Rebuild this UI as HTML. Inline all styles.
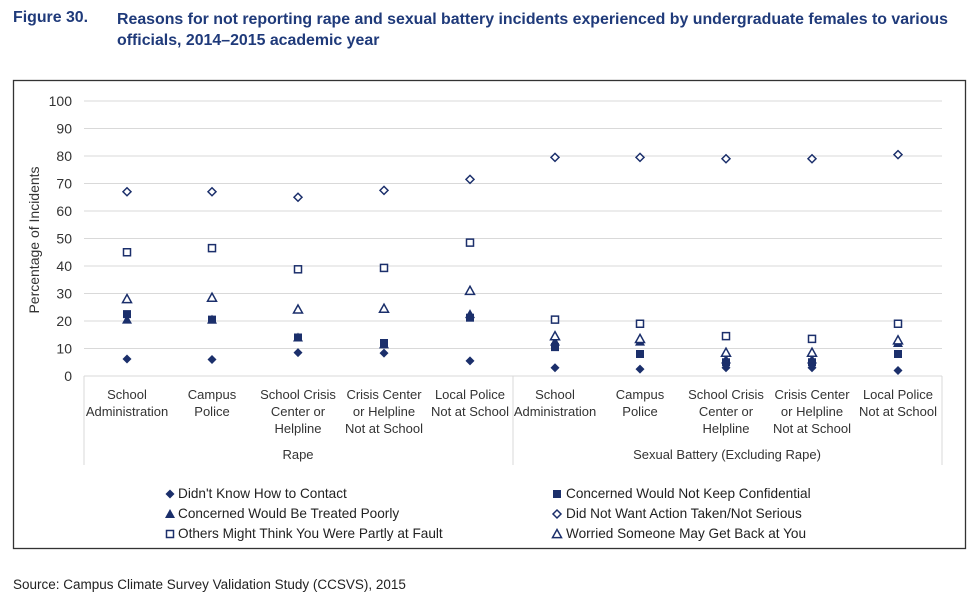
<!DOCTYPE html>
<html><head><meta charset="utf-8"><style>
body{margin:0;background:#fff;width:980px;height:615px;overflow:hidden;font-family:"Liberation Sans",sans-serif}
.t{position:absolute;color:#1f3a7a;font-weight:bold;font-size:15.9px;font-family:"Liberation Sans Narrow","Liberation Sans",sans-serif}
</style></head><body>
<div class="t" style="left:13px;top:9px">Figure 30.</div>
<div class="t" style="left:117px;top:9px;line-height:21px">Reasons for not reporting rape and sexual battery incidents experienced by undergraduate females to various<br>officials, 2014–2015 academic year</div>
<svg id="s" width="980" height="615" style="position:absolute;left:0;top:0" font-family="Liberation Sans, sans-serif">
<rect x="13.5" y="80.5" width="952" height="468" fill="none" stroke="#333" stroke-width="1.3"/>
<g stroke="#d9d9d9" stroke-width="1" id="grid"></g>
<g stroke="#d9d9d9"><line x1="84" y1="376" x2="84" y2="465"/><line x1="513" y1="376" x2="513" y2="465"/><line x1="942" y1="376" x2="942" y2="465"/></g>
<g font-size="14" fill="#333" text-anchor="end" id="yl"></g>
<text transform="translate(39,240) rotate(-90)" font-size="14" fill="#333" text-anchor="middle">Percentage of Incidents</text>
<g font-size="13" fill="#333" text-anchor="middle">
<text x="127" y="399">School</text><text x="127" y="416">Administration</text>
<text x="212" y="399">Campus</text><text x="212" y="416">Police</text>
<text x="298" y="399">School Crisis</text><text x="298" y="416">Center or</text><text x="298" y="433">Helpline</text>
<text x="384" y="399">Crisis Center</text><text x="384" y="416">or Helpline</text><text x="384" y="433">Not at School</text>
<text x="470" y="399">Local Police</text><text x="470" y="416">Not at School</text>
<text x="555" y="399">School</text><text x="555" y="416">Administration</text>
<text x="640" y="399">Campus</text><text x="640" y="416">Police</text>
<text x="726" y="399">School Crisis</text><text x="726" y="416">Center or</text><text x="726" y="433">Helpline</text>
<text x="812" y="399">Crisis Center</text><text x="812" y="416">or Helpline</text><text x="812" y="433">Not at School</text>
<text x="898" y="399">Local Police</text><text x="898" y="416">Not at School</text>
<text x="298" y="459">Rape</text>
<text x="727" y="459">Sexual Battery (Excluding Rape)</text>
</g>
<g id="m"></g>
<g font-size="13.6" fill="#222">
<text x="178" y="498">Didn't Know How to Contact</text>
<text x="178" y="518">Concerned Would Be Treated Poorly</text>
<text x="178" y="538">Others Might Think You Were Partly at Fault</text>
<text x="566" y="498">Concerned Would Not Keep Confidential</text>
<text x="566" y="518">Did Not Want Action Taken/Not Serious</text>
<text x="566" y="538">Worried Someone May Get Back at You</text>
</g>
<text x="13" y="589" font-size="13.5" fill="#222">Source: Campus Climate Survey Validation Study (CCSVS), 2015</text>
</svg>
<script>
var NS="http://www.w3.org/2000/svg",g=document.getElementById('grid'),yl=document.getElementById('yl'),m=document.getElementById('m');
function Y(v){return 376-v*2.75}
for(var v=0;v<=100;v+=10){var l=document.createElementNS(NS,'line');l.setAttribute('x1',84);l.setAttribute('x2',942);l.setAttribute('y1',Y(v));l.setAttribute('y2',Y(v));g.appendChild(l);
var t=document.createElementNS(NS,'text');t.setAttribute('x',72);t.setAttribute('y',Y(v)+5);t.textContent=v;yl.appendChild(t);}
var C='#1b2f6b';
function mk(type,x,y){var e;
 if(type==0||type==3){e=document.createElementNS(NS,'polygon');var r=type==0?4.5:4;e.setAttribute('points',x+','+(y-r)+' '+(x+r)+','+y+' '+x+','+(y+r)+' '+(x-r)+','+y);}
 else if(type==1||type==4){e=document.createElementNS(NS,'rect');var s=type==1?8:7;e.setAttribute('x',x-s/2);e.setAttribute('y',y-s/2);e.setAttribute('width',s);e.setAttribute('height',s);}
 else {e=document.createElementNS(NS,'polygon');var r=type==2?5:4.5;e.setAttribute('points',x+','+(y-r)+' '+(x+r)+','+(y+r*0.8)+' '+(x-r)+','+(y+r*0.8));}
 if(type<3){e.setAttribute('fill',C);}else{e.setAttribute('fill','#fff');e.setAttribute('stroke',C);e.setAttribute('stroke-width',1.5);}
 m.appendChild(e);}
var X=[127,212,298,384,470,555,640,726,812,898];
var D=[
[6.2,6,8.5,8.3,5.5,3,2.5,3,3,2],
[22.5,20.5,14,12,21.2,10.5,8,5,5,8],
[20.5,20.5,14,11.5,22.5,12.5,12.5,6,6,12],
[67,67,65,67.5,71.5,79.5,79.5,79,79,80.5],
[45,46.5,38.8,39.3,48.5,20.5,19,14.5,13.5,19],
[28,28.5,24.2,24.5,31,14.5,13.5,8.5,8.5,13]];
[2,1,0,3,4,5].forEach(function(s){for(var i=0;i<10;i++)mk(s,X[i],Y(D[s][i]));});
mk(0,170,494);mk(2,170,514);mk(4,170,534);mk(1,557,494);mk(3,557,514);mk(5,557,534);
</script>
</body></html>
